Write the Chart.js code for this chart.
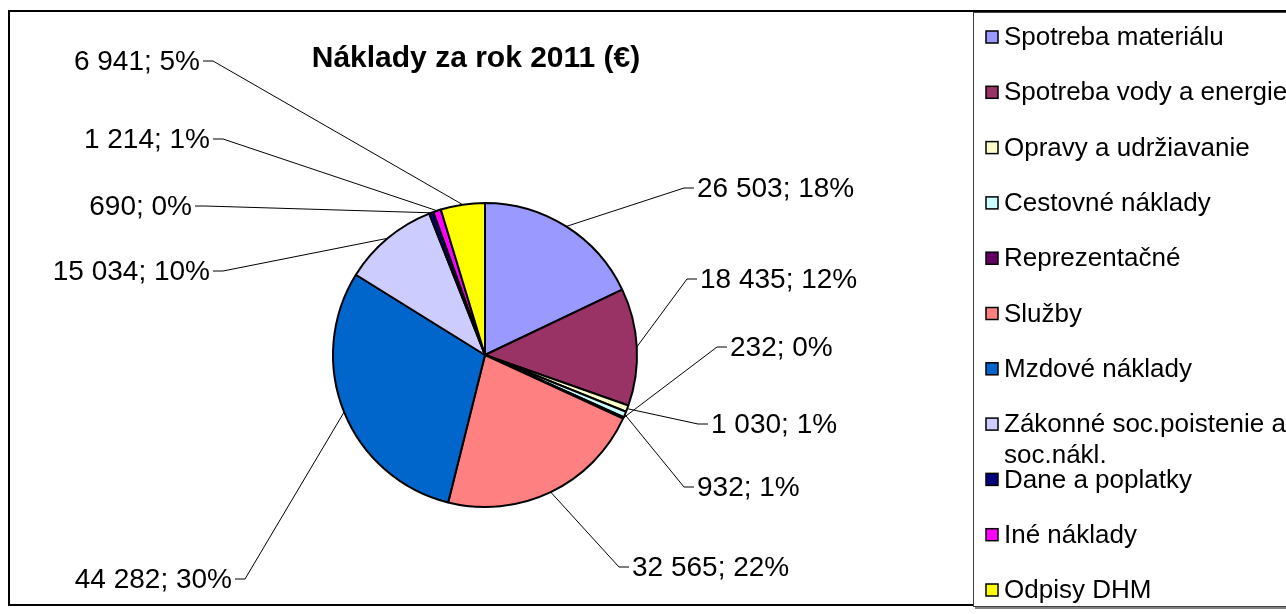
<!DOCTYPE html>
<html>
<head>
<meta charset="utf-8">
<script src="https://cdn.jsdelivr.net/npm/chart.js@4.4.0/dist/chart.umd.min.js"></script>
<style>
  body { margin: 0; background: #fff; }
  #wrap { width: 1286px; height: 614px; }
</style>
</head>
<body>
<div id="wrap"><canvas id="pie" width="1286" height="614"></canvas></div>
<script>
const chartTitle = 'Náklady za rok 2011 (€)';

const categories = [
  'Spotreba materiálu',
  'Spotreba vody a energie',
  'Opravy a udržiavanie',
  'Cestovné náklady',
  'Reprezentačné',
  'Služby',
  'Mzdové náklady',
  ['Zákonné soc.poistenie a', 'soc.nákl.'],
  'Dane a poplatky',
  'Iné náklady',
  'Odpisy DHM'
];

const costs = [26503, 18435, 1030, 932, 232, 32565, 44282, 15034, 690, 1214, 6941];

const sliceColors = ['#9999FF', '#993366', '#FFFFCC', '#CCFFFF', '#660066', '#FF8080',
  '#0066CC', '#CCCCFF', '#000080', '#FF00FF', '#FFFF00'];

// where each data label sits, offset from the pie centre (inner edge of text, middle of text)
const labelOffsets = [
  [212, -167], [215, -76], [226, 69], [212, 132], [245, -8], [147, 212],
  [-253, 224], [-275, -84], [-293, -149], [-275, -216], [-285, -294]
];

const FONT = '"Liberation Sans", Arial, sans-serif';

const fmt = (v) => String(v).replace(/\B(?=(\d{3})+(?!\d))/g, ' ');

// outer frame + legend box, behind the pie
const framePlugin = {
  id: 'frame',
  beforeDraw(chart) {
    const ctx = chart.ctx;
    ctx.save();
    ctx.fillStyle = '#fff';
    ctx.fillRect(0, 0, chart.width, chart.height);
    ctx.strokeStyle = '#000';
    ctx.lineWidth = 2;
    ctx.strokeRect(9, 11, 1300, 594);
    // legend box with a small shadow
    ctx.fillStyle = '#808080';
    ctx.fillRect(975, 606, 320, 3);
    ctx.fillStyle = '#fff';
    ctx.fillRect(973, 12, 320, 594);
    ctx.strokeStyle = '#404040';
    ctx.lineWidth = 1;
    ctx.strokeRect(973.5, 12.5, 320, 594);
    ctx.restore();
  }
};

// title, data labels with leader lines, legend
const labelPlugin = {
  id: 'pieLabels',
  afterDraw(chart) {
    const ctx = chart.ctx;
    const ds = chart.data.datasets[0];
    const total = ds.data.reduce((a, b) => a + b, 0);
    const arcs = chart.getDatasetMeta(0).data;

    ctx.save();
    ctx.fillStyle = '#000';
    ctx.font = 'bold 30px ' + FONT;
    ctx.textAlign = 'center';
    ctx.textBaseline = 'middle';
    ctx.fillText(chartTitle, 476, 59);

    ctx.font = '28px ' + FONT;
    arcs.forEach((arc, i) => {
      const p = arc.getProps(['x', 'y', 'startAngle', 'endAngle', 'outerRadius'], true);
      const mid = (p.startAngle + p.endAngle) / 2;
      const ex = p.x + Math.cos(mid) * p.outerRadius;
      const ey = p.y + Math.sin(mid) * p.outerRadius;
      const off = labelOffsets[i];
      const tx = p.x + off[0];
      const ty = p.y + off[1];
      const right = off[0] > 0;
      const inner = right ? tx - 3 : tx + 3;
      const outer = right ? tx - 13 : tx + 13;

      ctx.strokeStyle = '#000';
      ctx.lineWidth = 1;
      ctx.beginPath();
      ctx.moveTo(ex, ey);
      ctx.lineTo(outer, ty);
      ctx.lineTo(inner, ty);
      ctx.stroke();

      const pct = Math.round(ds.data[i] / total * 100);
      ctx.textAlign = right ? 'left' : 'right';
      ctx.fillText(fmt(ds.data[i]) + '; ' + pct + '%', tx, ty + 1);
    });

    // legend
    ctx.font = '26px ' + FONT;
    ctx.textAlign = 'left';
    const step = 55.3;
    categories.forEach((cat, i) => {
      const y = 37 + i * step;
      ctx.fillStyle = sliceColors[i];
      ctx.fillRect(986, y - 6, 12, 12);
      ctx.strokeStyle = '#000';
      ctx.lineWidth = 1.5;
      ctx.strokeRect(986, y - 6, 12, 12);
      ctx.fillStyle = '#000';
      const lines = Array.isArray(cat) ? cat : [cat];
      lines.forEach((ln, k) => ctx.fillText(ln, 1004, y + 1 + k * 31));
    });
    ctx.restore();
  }
};

new Chart(document.getElementById('pie'), {
  type: 'pie',
  data: {
    labels: categories.map(c => Array.isArray(c) ? c.join(' ') : c),
    datasets: [{
      data: costs,
      backgroundColor: sliceColors,
      borderColor: '#000',
      borderWidth: 2
    }]
  },
  options: {
    responsive: false,
    animation: false,
    layout: { padding: { left: 332, right: 648, top: 202, bottom: 106 } },
    plugins: {
      legend: { display: false },
      tooltip: { enabled: false }
    }
  },
  plugins: [framePlugin, labelPlugin]
});
</script>
</body>
</html>
